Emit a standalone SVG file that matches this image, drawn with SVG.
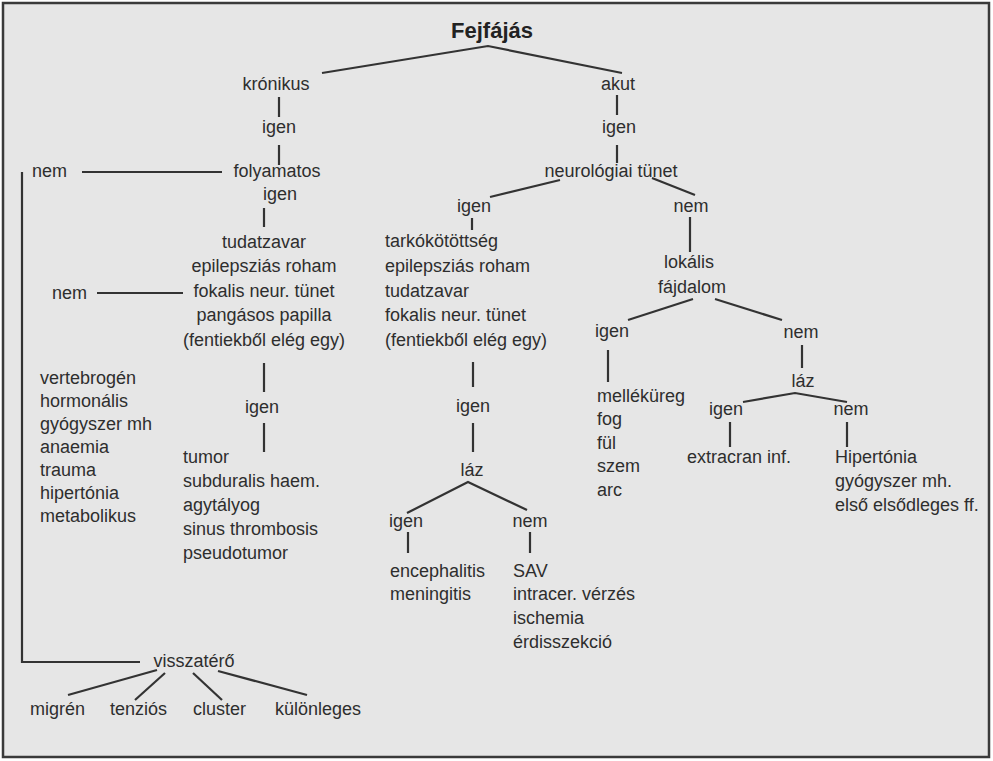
<svg xmlns="http://www.w3.org/2000/svg" width="993" height="761" viewBox="0 0 993 761">
<style>
text{font-family:"Liberation Sans",Arial,sans-serif;font-size:18px;fill:#2e2e2e}
.c{text-anchor:middle}
.t{font-weight:bold;font-size:22px;fill:#222}
.ln{fill:none;stroke:#333;stroke-width:2.2;stroke-linecap:butt;stroke-linejoin:miter}
</style>
<rect x="0" y="0" width="993" height="761" fill="#ffffff"/>
<rect x="3" y="3" width="986" height="754" fill="#e6e6e6" stroke="#3a3a3a" stroke-width="2.5"/>
<g id="connectors" class="ln">
<polyline points="322,73 488,46 622,73"/>
<line x1="279" y1="97" x2="279" y2="117"/>
<line x1="279" y1="145" x2="279" y2="165"/>
<line x1="82" y1="172" x2="222" y2="172"/>
<polyline points="22,172 22,662 140,662"/>
<line x1="264" y1="208" x2="264" y2="227"/>
<line x1="97" y1="293" x2="183" y2="293"/>
<line x1="264" y1="363" x2="264" y2="392"/>
<line x1="264" y1="423" x2="264" y2="452"/>
<line x1="157" y1="670" x2="68" y2="695"/>
<line x1="165" y1="673" x2="135" y2="700"/>
<line x1="193" y1="673" x2="222" y2="700"/>
<line x1="218" y1="671" x2="307" y2="695"/>
<line x1="617" y1="95" x2="617" y2="115"/>
<line x1="617" y1="145" x2="617" y2="163"/>
<line x1="560" y1="180" x2="490" y2="197"/>
<line x1="652" y1="178" x2="695" y2="195"/>
<line x1="472" y1="218" x2="472" y2="230"/>
<line x1="473" y1="362" x2="473" y2="387"/>
<line x1="473" y1="423" x2="473" y2="452"/>
<polyline points="407,513 468,482 527,510"/>
<line x1="408" y1="532" x2="408" y2="553"/>
<line x1="530" y1="532" x2="530" y2="553"/>
<line x1="690" y1="217" x2="690" y2="252"/>
<line x1="628" y1="320" x2="693" y2="299"/>
<line x1="715" y1="299" x2="782" y2="320"/>
<line x1="608" y1="350" x2="608" y2="382"/>
<line x1="802" y1="345" x2="802" y2="368"/>
<polyline points="743,402 795,393 847,402"/>
<line x1="730" y1="422" x2="730" y2="447"/>
<line x1="847" y1="422" x2="847" y2="447"/>
</g>
<g id="n-root"><text class="c t" x="492" y="38">Fejfájás</text></g>
<g id="n-kronikus"><text class="c" x="276" y="90">krónikus</text></g>
<g id="n-igen1"><text class="c" x="279" y="133">igen</text></g>
<g id="n-folyamatos"><text class="c" x="277" y="177">folyamatos</text></g>
<g id="n-nem1"><text x="32" y="177">nem</text></g>
<g id="n-igen2"><text class="c" x="280" y="200">igen</text></g>
<g id="n-tudat" class="c">
<text class="c" x="264" y="248">tudatzavar</text>
<text class="c" x="264" y="272">epilepsziás roham</text>
<text class="c" x="264" y="297">fokalis neur. tünet</text>
<text class="c" x="264" y="321">pangásos papilla</text>
<text class="c" x="264" y="346">(fentiekből elég egy)</text>
</g>
<g id="n-nem2"><text x="52" y="299">nem</text></g>
<g id="n-igen3"><text class="c" x="262" y="413">igen</text></g>
<g id="n-tumor">
<text x="183" y="463">tumor</text>
<text x="183" y="487">subduralis haem.</text>
<text x="183" y="511">agytályog</text>
<text x="183" y="535">sinus thrombosis</text>
<text x="183" y="559">pseudotumor</text>
</g>
<g id="n-secondary">
<text x="40" y="384">vertebrogén</text>
<text x="40" y="407">hormonális</text>
<text x="40" y="430">gyógyszer mh</text>
<text x="40" y="453">anaemia</text>
<text x="40" y="476">trauma</text>
<text x="40" y="499">hipertónia</text>
<text x="40" y="522">metabolikus</text>
</g>
<g id="n-visszatero"><text class="c" x="194" y="667">visszatérő</text></g>
<g id="n-migren"><text x="30" y="715">migrén</text></g>
<g id="n-tenzios"><text x="110" y="715">tenziós</text></g>
<g id="n-cluster"><text x="193" y="715">cluster</text></g>
<g id="n-kulonleges"><text x="275" y="715">különleges</text></g>
<g id="n-akut"><text class="c" x="618" y="90">akut</text></g>
<g id="n-igen4"><text class="c" x="619" y="133">igen</text></g>
<g id="n-neuro"><text class="c" x="611" y="177">neurológiai tünet</text></g>
<g id="n-igen5"><text class="c" x="474" y="212">igen</text></g>
<g id="n-nem3"><text class="c" x="691" y="212">nem</text></g>
<g id="n-tarko">
<text x="385" y="247">tarkókötöttség</text>
<text x="385" y="272">epilepsziás roham</text>
<text x="385" y="297">tudatzavar</text>
<text x="385" y="321">fokalis neur. tünet</text>
<text x="385" y="346">(fentiekből elég egy)</text>
</g>
<g id="n-igen6"><text class="c" x="473" y="412">igen</text></g>
<g id="n-laz1"><text class="c" x="472" y="476">láz</text></g>
<g id="n-igen7"><text class="c" x="406" y="527">igen</text></g>
<g id="n-nem4"><text class="c" x="530" y="527">nem</text></g>
<g id="n-enceph">
<text x="390" y="577">encephalitis</text>
<text x="390" y="600">meningitis</text>
</g>
<g id="n-sav">
<text x="513" y="577">SAV</text>
<text x="513" y="600">intracer. vérzés</text>
<text x="513" y="624">ischemia</text>
<text x="513" y="648">érdisszekció</text>
</g>
<g id="n-lokalis">
<text class="c" x="689" y="268">lokális</text>
<text class="c" x="692" y="293">fájdalom</text>
</g>
<g id="n-igen8"><text class="c" x="612" y="337">igen</text></g>
<g id="n-nem5"><text class="c" x="801" y="338">nem</text></g>
<g id="n-mellek">
<text x="597" y="402">melléküreg</text>
<text x="597" y="425">fog</text>
<text x="597" y="449">fül</text>
<text x="597" y="472">szem</text>
<text x="597" y="496">arc</text>
</g>
<g id="n-laz2"><text class="c" x="803" y="387">láz</text></g>
<g id="n-igen9"><text class="c" x="726" y="415">igen</text></g>
<g id="n-nem6"><text class="c" x="851" y="415">nem</text></g>
<g id="n-extra"><text class="c" x="739" y="463">extracran inf.</text></g>
<g id="n-hiper">
<text x="835" y="463">Hipertónia</text>
<text x="835" y="487">gyógyszer mh.</text>
<text x="835" y="511">első elsődleges ff.</text>
</g>
</svg>
